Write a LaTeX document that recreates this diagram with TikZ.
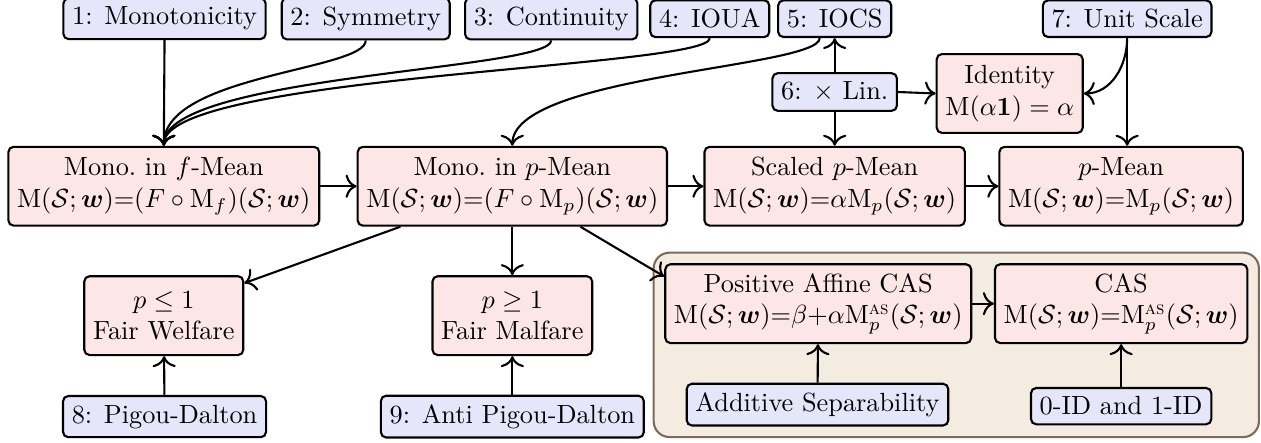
\documentclass[tikz,border=0pt]{standalone}
\usepackage{amsmath,amssymb}
\usetikzlibrary{arrows.meta, positioning, calc, fit, backgrounds}
\definecolor{axiom-fill}{HTML}{E6E6FA}
\definecolor{class-fill}{HTML}{FDE6E6}
\definecolor{group-fill}{HTML}{F5ECE1}
\definecolor{group-border}{HTML}{7D6B5A}
\tikzset{
  axiom/.style={
    draw=black, fill=axiom-fill, thick, rounded corners=2pt, align=center
  },
  meanclass/.style={
    draw=black, fill=class-fill, thick, rounded corners=2pt, align=center,
    minimum height=3em
  },
  groupbox/.style={
    draw=group-border, fill=group-fill, thick, rounded corners=6pt, inner sep=4pt
  },
  imp/.style={-{To[scale=1.25]}, thick},
  bundle/.style={imp, out=-90, in=90, out distance=0.4cm, in distance=0.95cm}
}
\newcommand{\Msw}{\mathrm{M}(\mathcal{S};\boldsymbol{w})}
\newcommand{\sw}{(\mathcal{S};\boldsymbol{w})}

\begin{document}
\begin{tikzpicture}
  \useasboundingbox (0,0) rectangle (16.86,-5.91);

  % ---- Axioms (top row) ----------------------------------------------------
  \node[axiom] (mono) at (2.20, -0.25) {1: Monotonicity};
  \node[axiom] (sym)  at (4.89, -0.25) {2: Symmetry};
  \node[axiom] (cont) at (7.37, -0.25) {3: Continuity};
  \node[axiom] (ioua) at (9.49, -0.25) {4: IOUA};
  \node[axiom] (iocs) at (11.16, -0.25) {5: IOCS};
  \node[axiom] (unit) at (15.07, -0.25) {7: Unit Scale};
  \node[axiom] (lin)  at (11.16, -1.23) {6: $\times$ Lin.};
  \node[meanclass] (ident) at (13.50, -1.25) {Identity\\$\mathrm{M}(\alpha\mathbf{1}) = \alpha$};

  % ---- Mean classes --------------------------------------------------------
  \node[meanclass] (fmean) at (2.19, -2.49)
    {Mono.\ in $f$-Mean\\$\Msw{=}(F\circ\mathrm{M}_f)\sw$};
  \node[meanclass] (pmono) at (6.85, -2.49)
    {Mono.\ in $p$-Mean\\$\Msw{=}(F\circ\mathrm{M}_p)\sw$};
  \node[meanclass] (scaled) at (11.16, -2.49)
    {Scaled $p$-Mean\\$\Msw{=}\alpha\mathrm{M}_p\sw$};
  \node[meanclass] (pmean) at (14.99, -2.49)
    {$p$-Mean\\$\Msw{=}\mathrm{M}_p\sw$};

  % ---- Welfare / malfare ---------------------------------------------------
  \node[meanclass] (welf) at (2.19, -4.22) {$p \leq 1$\\Fair Welfare};
  \node[meanclass] (malf) at (6.85, -4.22) {$p \geq 1$\\Fair Malfare};
  \node[axiom] (pd)  at (2.20, -5.57) {8: Pigou-Dalton};
  \node[axiom] (apd) at (6.85, -5.57) {9: Anti Pigou-Dalton};

  % ---- CAS group -----------------------------------------------------------
  \node[meanclass] (pacas) at (10.94, -4.06)
    {Positive Affine CAS\\$\Msw{=}\beta{+}\alpha\mathrm{M}^{\textsc{as}}_p\sw$};
  \node[meanclass] (cas) at (14.99, -4.06)
    {CAS\\$\Msw{=}\mathrm{M}^{\textsc{as}}_p\sw$};
  \node[axiom] (addsep) at (10.93, -5.41) {Additive Separability};
  \node[axiom] (zeroid) at (14.99, -5.43) {0-ID and 1-ID};
  \begin{scope}[on background layer]
    \node[groupbox, fit=(pacas)(cas)(addsep)(zeroid)] (casgroup) {};
  \end{scope}

  % ---- Axioms into f-mean --------------------------------------------------
  \draw[imp] (mono.south) -- (fmean.north);
  \draw[bundle] (sym.south) to (fmean.north);
  \draw[bundle] (cont.south) to (fmean.north);
  \draw[bundle] (ioua.south) to (fmean.north);
  \draw[bundle] ([xshift=-2mm]iocs.south) to (pmono.north);

  % ---- Linearity and unit scale --------------------------------------------
  \draw[imp] (lin.north) -- (iocs.south);
  \draw[imp] (lin.south) -- (scaled.north);
  \draw[imp] (lin.east) -- (ident.west);
  \draw[imp] (unit.south) to[out=-90, in=0] (ident.east);
  \draw[imp] (unit.south) -- (unit.south |- pmean.north);

  % ---- Chain of mean classes -----------------------------------------------
  \draw[imp] (fmean) -- (pmono);
  \draw[imp] (pmono) -- (scaled);
  \draw[imp] (scaled) -- (pmean);
  \draw[imp] (pmono) -- (welf.22);
  \draw[imp] (pmono) -- (malf);
  \draw[imp] (pmono) -- (pacas.170);
  \draw[imp] (pacas) -- (cas);

  % ---- Axioms from below ---------------------------------------------------
  \draw[imp] (pd) -- (welf);
  \draw[imp] (apd) -- (malf);
  \draw[imp] (addsep) -- (pacas);
  \draw[imp] (zeroid) -- (cas);

\end{tikzpicture}
\end{document}
